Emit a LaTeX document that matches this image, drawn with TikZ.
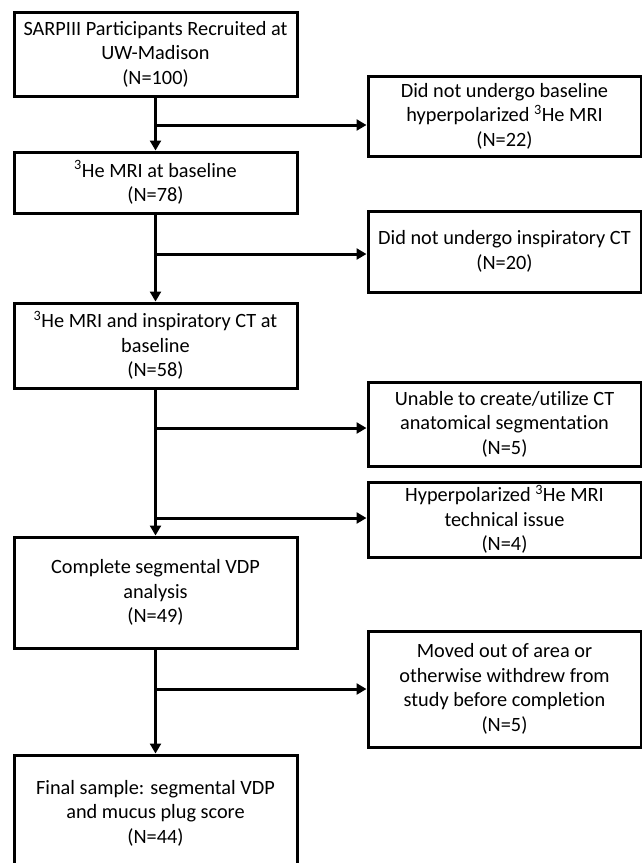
\documentclass[tikz,border=0pt]{standalone}
\usepackage{fontspec}
\setmainfont{Carlito}
\usetikzlibrary{arrows.meta}

\newcommand\nb{\kern0pt}% keeps t and i apart
\tikzset{box/.style={ draw, line width=3pt, rectangle, align=center, inner sep=1pt,
  font=\fontsize{20.3}{24.5}\selectfont}}
\tikzset{lbox/.style={ box, minimum width=283pt}}
\tikzset{rbox/.style={ box, minimum width=273pt}}
\tikzset{arr/.style={ line width=3pt, -{Triangle[length=10pt,width=11pt]}}}

\begin{document}
\begin{tikzpicture}[x=1pt,y=-1pt]
\useasboundingbox (0,0) rectangle (642,863);
% main column
\node[lbox, minimum height=84pt] (recruit) at (155.5,54) {SARPIII Participants Recruited at\\UW-Madison\\(N=100)};
\node[lbox, minimum height=61pt] (mri) at (155.5,182.5) {\textsuperscript{3}He MRI at baseline\\(N=78)};
\node[lbox, minimum height=85pt] (mrict) at (155.5,345.5) {\textsuperscript{3}He MRI and inspiratory CT at\\baseline\\(N=58)};
\node[lbox, minimum height=111pt] (vdp) at (155.5,592.5) {Complete segmental VDP\\analysis\\(N=49)};
\node[lbox, minimum height=116pt] (final) at (155.5,813) {Final sample: segmental VDP\\and mucus plug score\\(N=44)};
% exclusions
\node[rbox, minimum height=80pt] (nomri) at (504.5,116) {Did not undergo baseline\\hyperpolarized \textsuperscript{3}He MRI\\(N=22)};
\node[rbox, minimum height=81pt] (noct) at (504.5,251.5) {Did not undergo inspiratory CT\\(N=20)};
\node[rbox, minimum height=84pt] (noseg) at (504.5,424) {Unable to create/ut\nb ilize CT\\anatomical segmentat\nb ion\\(N=5)};
\node[rbox, minimum height=75pt] (tech) at (504.5,519.5) {Hyperpolarized \textsuperscript{3}He MRI\\technical issue\\(N=4)};
\node[rbox, minimum height=116pt] (moved) at (504.5,689) {Moved out of area or\\otherwise withdrew from\\study before complet\nb ion\\(N=5)};

\draw[arr] (recruit) -- (mri);
\draw[arr] (mri) -- (mrict);
\draw[arr] (mrict) -- (vdp);
\draw[arr] (vdp) -- (final);

\coordinate (b1) at (155.5,125);
\coordinate (b2) at (155.5,254);
\coordinate (b3) at (155.5,428);
\coordinate (b4) at (155.5,518);
\coordinate (b5) at (155.5,689);
\draw[arr] (b1) -- (b1 -| nomri.west);
\draw[arr] (b2) -- (b2 -| noct.west);
\draw[arr] (b3) -- (b3 -| noseg.west);
\draw[arr] (b4) -- (b4 -| tech.west);
\draw[arr] (b5) -- (b5 -| moved.west);
\end{tikzpicture}
\end{document}
